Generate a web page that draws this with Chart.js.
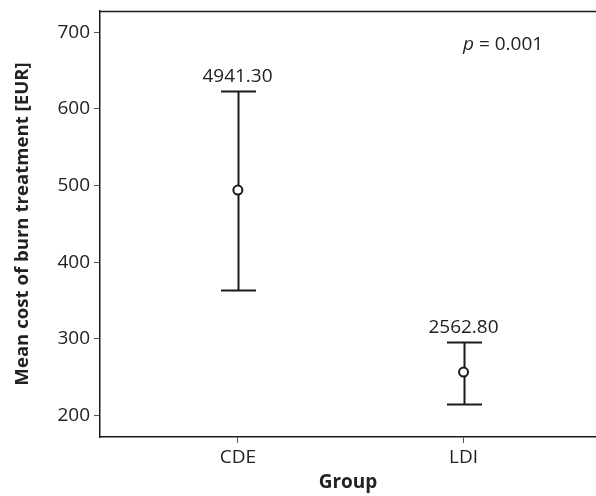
<!DOCTYPE html>
<html><head><meta charset="utf-8">
<script src="https://cdn.jsdelivr.net/npm/chart.js@4/dist/chart.umd.min.js"></script>
<style>html,body{margin:0;padding:0;background:#fff;overflow:hidden}canvas{display:block}</style>
</head><body>
<canvas id="c" width="596" height="496"></canvas>
<script>
const categories = ['CDE', 'LDI'];
const meanValues = [494, 256.5];
const upperValues = [624, 296];
const lowerValues = [364, 215];
const barLabels = ['4941.30', '2562.80'];
const yTickValues = [200, 300, 400, 500, 600, 700];
const pLetter = 'p';
const pRest = ' = 0.001';

const FONT = '"Open Sans", "Noto Sans", sans-serif';
const TXT = '#222';
const LINE = '#1a1a1a';

const errorBarPlugin = {
  id: 'errorBars',
  beforeDatasetsDraw(chart) {
    const {ctx, chartArea, scales: {x, y}} = chart;
    ctx.save();
    // top border of the frame
    ctx.strokeStyle = LINE;
    ctx.lineWidth = 1.5;
    ctx.beginPath();
    ctx.moveTo(chartArea.left, chartArea.top + 0.5);
    ctx.lineTo(chartArea.right, chartArea.top + 0.5);
    ctx.stroke();
    // error bars
    ctx.lineWidth = 2;
    const cap = 17.5;
    categories.forEach((c, i) => {
      const px = Math.round(x.getPixelForValue(i + 1)) + 0.5;
      const yu = Math.round(y.getPixelForValue(upperValues[i])) + 0.5;
      const yl = Math.round(y.getPixelForValue(lowerValues[i])) + 0.5;
      ctx.beginPath();
      ctx.moveTo(px, yu); ctx.lineTo(px, yl);
      ctx.moveTo(px - cap, yu); ctx.lineTo(px + cap, yu);
      ctx.moveTo(px - cap, yl); ctx.lineTo(px + cap, yl);
      ctx.stroke();
      ctx.fillStyle = TXT;
      ctx.font = '19px ' + FONT;
      ctx.textAlign = 'center';
      ctx.textBaseline = 'alphabetic';
      ctx.fillText(barLabels[i], px - 1, yu - 10);
    });
    // p-value annotation
    const bx = chartArea.right - 133;
    const by = chartArea.top + 39;
    ctx.textAlign = 'left';
    ctx.font = 'italic 19px ' + FONT;
    ctx.fillText(pLetter, bx, by);
    const w = ctx.measureText(pLetter).width;
    ctx.font = '19px ' + FONT;
    ctx.fillText(pRest, bx + w, by);
    ctx.restore();
  }
};

const zeroPad = s => { s.paddingTop = 0; s.paddingBottom = 0; s.paddingLeft = 0; s.paddingRight = 0; };

new Chart(document.getElementById('c'), {
  type: 'scatter',
  data: {
    datasets: [{
      data: categories.map((c, i) => ({x: i + 1, y: meanValues[i]})),
      pointRadius: 4.5,
      pointHoverRadius: 4.5,
      pointBorderWidth: 2,
      borderColor: LINE,
      backgroundColor: '#fff',
      showLine: false
    }]
  },
  options: {
    responsive: false,
    devicePixelRatio: 1,
    animation: false,
    layout: {autoPadding: false, padding: {top: 11, right: 0, bottom: 0, left: 0}},
    plugins: {legend: {display: false}, tooltip: {enabled: false}},
    scales: {
      x: {
        type: 'linear',
        position: 'bottom',
        min: 0.389,
        max: 2.587,
        afterBuildTicks: s => { s.ticks = categories.map((c, i) => ({value: i + 1})); },
        afterFit: s => { s.height = 59; zeroPad(s); },
        grid: {drawOnChartArea: false, drawTicks: true, tickLength: 6, tickColor: '#555', tickWidth: 1},
        border: {display: true, color: LINE, width: 1.5},
        ticks: {
          color: TXT, font: {family: FONT, size: 19}, padding: 3,
          maxRotation: 0,
          callback: (v) => categories[Math.round(v) - 1]
        },
        title: {display: true, text: 'Group', color: TXT,
          font: {family: FONT, size: 19, weight: 'bold'}, padding: {top: 0, bottom: 2}}
      },
      y: {
        type: 'linear',
        min: 171.7,
        max: 727.8,
        afterBuildTicks: s => { s.ticks = yTickValues.map(v => ({value: v})); },
        afterFit: s => { s.width = 100; zeroPad(s); },
        grid: {drawOnChartArea: false, drawTicks: true, tickLength: 6, tickColor: '#555', tickWidth: 1},
        border: {display: true, color: LINE, width: 1.5},
        ticks: {color: TXT, font: {family: FONT, size: 19}, padding: 4},
        title: {display: true, text: 'Mean cost of burn treatment [EUR]', color: TXT,
          font: {family: FONT, size: 18.6, weight: 'bold'}, padding: {top: 12, bottom: 0}}
      }
    }
  },
  plugins: [errorBarPlugin]
});
</script>
</body></html>
